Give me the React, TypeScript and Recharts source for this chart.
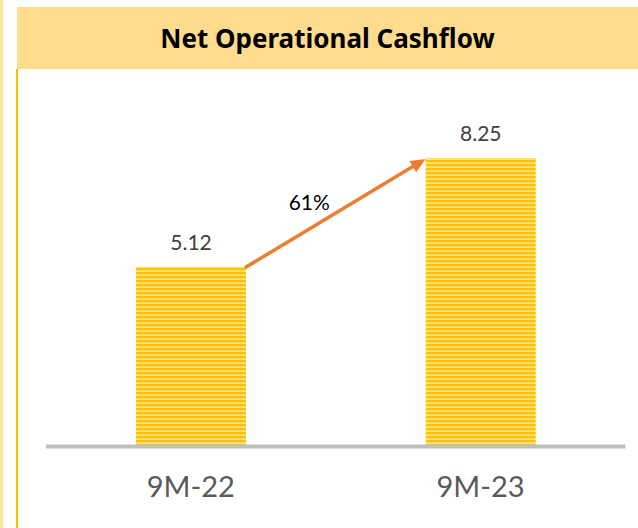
import React from 'react';
import { BarChart, Bar, XAxis, YAxis, LabelList, ReferenceLine } from 'recharts';

const categories = ['9M-22', '9M-23'];
const values = [5.12, 8.25];
const growthLabel = '61%';
const title = 'Net Operational Cashflow';

const data = categories.map((c, i) => ({ name: c, value: values[i] }));

const FONT = 'Lato, "Noto Sans", sans-serif';
const TITLE_FONT = '"Noto Sans", "Open Sans", sans-serif';
const HALF_BAR = 55;

const Arrow = (props: any) => {
  const { x1, y1, x2, y2 } = props;
  const sx = x1 + HALF_BAR - 1;
  const sy = y1 + 1;
  const ex = x2 - HALF_BAR;
  const ey = y2 + 1;
  const dx = ex - sx;
  const dy = ey - sy;
  const len = Math.sqrt(dx * dx + dy * dy);
  const ux = dx / len;
  const uy = dy / len;
  const headLen = 15;
  const headHalf = 6.5;
  const bx = ex - ux * headLen;
  const by = ey - uy * headLen;
  const px = -uy;
  const py = ux;
  const pts = `${ex},${ey} ${bx + px * headHalf},${by + py * headHalf} ${bx - px * headHalf},${by - py * headHalf}`;
  const mx = (sx + ex) / 2;
  const my = (sy + ey) / 2;
  return (
    <g>
      <line x1={sx} y1={sy} x2={bx + ux * 2} y2={by + uy * 2} stroke="#ED7D31" strokeWidth={3.5} />
      <polygon points={pts} fill="#ED7D31" />
      <text x={mx - 26} y={my - 3} textAnchor="middle" fontSize={21} fill="#000" fontFamily={FONT}>
        {growthLabel}
      </text>
    </g>
  );
};

const Tick = (props: any) => {
  const { x, y, payload } = props;
  return (
    <text x={x} y={y} dy={52} textAnchor="middle" fontSize={29} fill="#595959" fontFamily={FONT}>
      {payload.value}
    </text>
  );
};

export default function App() {
  return (
    <div style={{ position: 'absolute', left: 0, top: 0, width: 638, height: 528, background: '#fff', overflow: 'hidden' }}>
      <div style={{ position: 'absolute', left: 0, top: 0, width: 2.5, height: 528, background: '#FFE699' }} />
      <div
        style={{
          position: 'absolute',
          left: 17,
          top: 7,
          width: 621,
          height: 62,
          background: '#FFDB8D',
          display: 'flex',
          alignItems: 'center',
          justifyContent: 'center',
          fontFamily: TITLE_FONT,
          fontWeight: 700,
          fontSize: 26,
          color: '#000',
        }}
      >
        {title}
      </div>
      <div style={{ position: 'absolute', left: 16, top: 69, width: 2, height: 459, background: '#FFC000' }} />
      <div style={{ position: 'absolute', left: 0, top: 0 }}>
        <BarChart width={638} height={528} data={data} margin={{ top: 97, right: 12.5, bottom: 0, left: 46 }}>
          <defs>
            <pattern id="stripes" patternUnits="userSpaceOnUse" width={8} height={4}>
              <rect x={0} y={0} width={8} height={4} fill="#FFE287" />
              <rect x={0} y={0} width={8} height={2.2} fill="#FFC000" />
            </pattern>
          </defs>
          <XAxis
            dataKey="name"
            height={83}
            tickLine={false}
            tickSize={0}
            tickMargin={0}
            axisLine={{ stroke: '#BFBFBF', strokeWidth: 4, transform: 'translate(0,1.5)' } as any}
            tick={<Tick />}
            interval={0}
          />
          <YAxis hide domain={[0, 10]} />
          <Bar dataKey="value" barSize={110} fill="url(#stripes)" isAnimationActive={false}>
            <LabelList dataKey="value" position="top" offset={17} fontSize={21} fill="#404040" fontFamily={FONT} />
          </Bar>
          <ReferenceLine
            segment={[
              { x: categories[0], y: values[0] },
              { x: categories[1], y: values[1] },
            ]}
            ifOverflow="visible"
            shape={Arrow}
          />
        </BarChart>
      </div>
    </div>
  );
}
